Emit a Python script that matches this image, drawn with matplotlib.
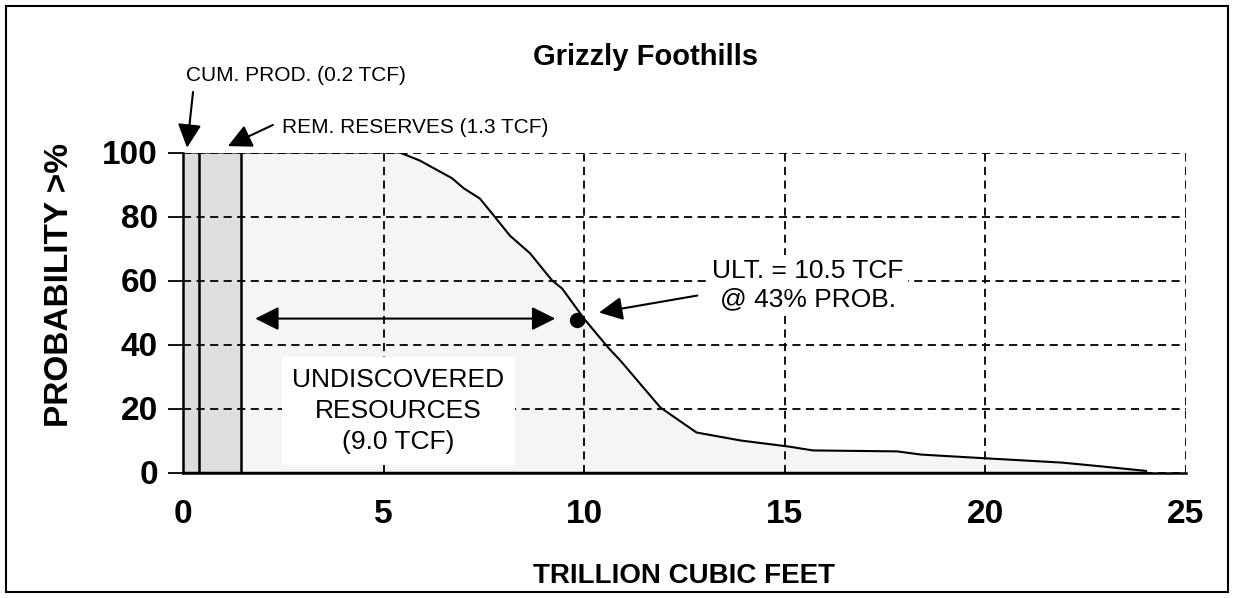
#!/usr/bin/env python3
# Grizzly Foothills - probability curve of gas resources

import matplotlib
matplotlib.use('Agg')
from matplotlib import pyplot as plt
from matplotlib.patches import Rectangle

# Probability curve (TCF, % probability)
curve_x = [0, 5.0, 5.4, 5.9, 6.7, 7.0, 7.4, 7.7, 8.15, 8.65, 9.2, 9.45, 10.0, 10.6,
           10.9, 11.9, 12.8, 13.9, 15.1, 15.7, 17.8, 18.4, 20.05, 21.9, 22.9, 24.0]
curve_y = [100, 100, 100, 97.5, 92, 88.8, 85.6, 81, 74, 68.5, 60, 57.5, 48, 39,
           35, 20.3, 12.5, 10, 8.1, 6.9, 6.6, 5.6, 4.4, 3.1, 1.9, 0.5]

# Shaded bars: cumulative production and remaining reserves
cum_prod_edge = 0.4
reserves_edge = 1.45

# Ultimate point and the undiscovered span arrow
ult_x = 9.83
ult_y = 47.8
span_start = 1.8
span_end = 9.28
span_y = 48.1

x_ticks = [0, 5, 10, 15, 20, 25]
y_ticks = [0, 20, 40, 60, 80, 100]

plt.rcParams['font.family'] = ['Liberation Sans', 'DejaVu Sans']

W, H = 1234, 598
fig = plt.figure(figsize=(W / 100, H / 100), dpi=100)
ax = fig.add_axes([183 / W, 1 - 472.5 / H, (1186 - 183) / W, (472.5 - 152.5) / H])

# Fills
ax.fill_between(curve_x, curve_y, 0, color='#f5f5f5', lw=0, zorder=0.5)
ax.fill_between([0, cum_prod_edge], 100, 0, color='#dcdcdc', lw=0, zorder=0.6)
ax.fill_between([cum_prod_edge, reserves_edge], 100, 0, color='#dedede', lw=0, zorder=0.6)
ax.vlines([cum_prod_edge, reserves_edge], 0, 100, color='black', lw=1.8, zorder=2)

# Curve
ax.plot(curve_x, curve_y, color='black', lw=1.5, zorder=2.5)
ax.plot([0, curve_x[-1]], [0, 0], color='black', lw=2.5, zorder=2.5)

ax.set_xlim(0, 25)
ax.set_ylim(0, 100)
ax.set_xticks(x_ticks)
ax.set_yticks(y_ticks)
ax.grid(True, color='black', lw=1.3, linestyle=(0, (4.5, 3)))

for s in ['top', 'right']:
   ax.spines[s].set_visible(False)
ax.spines['left'].set_linewidth(1.8)
ax.spines['bottom'].set_linewidth(1.8)

ax.tick_params(axis='y', length=11, width=1.3, pad=7, labelsize=24)
ax.tick_params(axis='x', length=0, pad=19, labelsize=24)
for lab in ax.get_xticklabels() + ax.get_yticklabels():
   lab.set_fontweight('bold')

# Annotations
head = dict(arrowstyle='-|>,head_length=0.9,head_width=0.45', mutation_scale=16,
            color='black', lw=1.5, shrinkA=0, shrinkB=0)

ax.text(0.075, 124.2, 'CUM. PROD. (0.2 TCF)', fontsize=15, ha='left', va='center', clip_on=False)
ax.annotate('', xy=(0.1, 101.5), xytext=(0.25, 118.9), annotation_clip=False, arrowprops=head)

ax.text(2.47, 107.7, 'REM. RESERVES (1.3 TCF)', fontsize=15, ha='left', va='center', clip_on=False)
ax.annotate('', xy=(1.12, 102.0), xytext=(2.24, 108.6), annotation_clip=False, arrowprops=head)

ax.annotate('', xy=(span_start, span_y), xytext=(span_end, span_y),
            arrowprops=dict(head, arrowstyle='<|-|>,head_length=0.9,head_width=0.45'))
ax.plot([ult_x], [ult_y], 'o', color='black', markersize=10, zorder=4)

ax.annotate('', xy=(10.37, 50.0), xytext=(12.82, 55.3), arrowprops=head)
ax.text(15.58, 58.6, 'ULT. = 10.5 TCF\n@ 43% PROB.', fontsize=19, ha='center',
        va='center', linespacing=1.26, zorder=3,
        bbox=dict(boxstyle='square,pad=0.15', facecolor='white', edgecolor='none'))

ax.text(5.37, 19.3, 'UNDISCOVERED\nRESOURCES\n(9.0 TCF)', fontsize=19, ha='center',
        va='center', linespacing=1.38, zorder=3,
        bbox=dict(boxstyle='square,pad=0.4', facecolor='white', edgecolor='none'))

# Titles
fig.text(646 / W, 1 - 57 / H, 'Grizzly Foothills', fontsize=21, fontweight='bold',
         ha='center', va='center')
fig.text(60 / W, 1 - 285 / H, 'PROBABILITY >%', fontsize=24, fontweight='bold',
         rotation=90, ha='center', va='center')
fig.text(684 / W, 1 - 576 / H, 'TRILLION CUBIC FEET', fontsize=20, fontweight='bold',
         ha='center', va='center')

# Border round the figure
fig.patches.append(Rectangle((6 / W, 6 / H), 1 - 12 / W, 1 - 12 / H, fill=False,
                             lw=1.5, edgecolor='black', transform=fig.transFigure))

fig.savefig('out.png', dpi=100)
